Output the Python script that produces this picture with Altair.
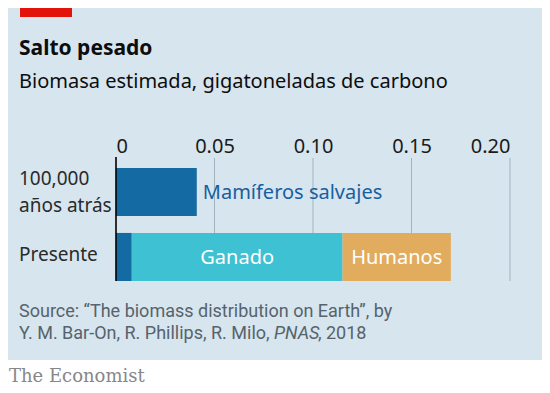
import altair as alt
import pandas as pd

# ---- data ----
periods = ["100,000\naños atrás", "Presente"]
categories = ["Mamíferos salvajes", "Ganado", "Humanos"]
wild_mammals = [0.041, 0.008]
livestock = [0.0, 0.107]
humans = [0.0, 0.055]
tick_values = [0, 0.05, 0.10, 0.15, 0.20]
grid_values = [0.05, 0.10, 0.15, 0.20]
cat_colors = ["#146aa2", "#3ec1d3", "#e1ac5e"]

title_text = "Salto pesado"
subtitle_text = "Biomasa estimada, gigatoneladas de carbono"
source_line1 = "Source: \u201cThe biomass distribution on Earth\u201d, by"
source_line2a = "Y. M. Bar-On, R. Phillips, R. Milo,"
source_line2b = "PNAS"
source_line2c = ", 2018"
logo_text = "The Economist"

# ---- tables ----
rows = []
for pi, p in enumerate(periods):
    vals = [wild_mammals[pi], livestock[pi], humans[pi]]
    for ci, c in enumerate(categories):
        if vals[ci] > 0:
            rows.append({"period": p, "category": c, "value": vals[ci], "order": ci})
bars_df = pd.DataFrame(rows)

lbl_wild = pd.DataFrame({"period": [periods[0]], "x": [wild_mammals[0]], "t": [categories[0]]})
p1_start = wild_mammals[1]
lbl_inside = pd.DataFrame({
    "period": [periods[1], periods[1]],
    "x": [p1_start + livestock[1] / 2, p1_start + livestock[1] + humans[1] / 2],
    "t": [categories[1], categories[2]],
})

FONT = "Noto Sans"
W, H = 394, 113
# window coordinates of the plot origin; the page has an 8px margin
RX, RY = 116, 168
MARGIN = 8
TOTAL_W, TOTAL_H = 550 - 2 * MARGIN, 393 - 2 * MARGIN
PL, PT = RX - MARGIN, RY - MARGIN

yscale = alt.Scale(domain=periods, paddingInner=0.26, paddingOuter=0)
xscale = alt.Scale(domain=[0, 0.2], nice=False, zero=True)

grid = alt.Chart(pd.DataFrame({"v": grid_values})).mark_rule(
    color="#a3b3bd", strokeWidth=1
).encode(
    x=alt.X("v:Q", scale=xscale),
    y=alt.value(-10), y2=alt.value(H),
)

bars = alt.Chart(bars_df).mark_bar().encode(
    x=alt.X("value:Q", stack="zero", scale=xscale,
            axis=alt.Axis(orient="top", values=tick_values,
                          labelExpr="datum.value == 0 ? '0' : format(datum.value, '.2f')",
                          domain=False, ticks=False, tickSize=0, grid=False,
                          labelFont=FONT, labelFontSize=20, labelColor="#1a1a1a",
                          labelBaseline="alphabetic", labelPadding=16, title=None)),
    y=alt.Y("period:N", scale=yscale, axis=None, sort=periods),
    color=alt.Color("category:N", scale=alt.Scale(domain=categories, range=cat_colors), legend=None),
    order=alt.Order("order:Q"),
)

zero_line = alt.Chart(pd.DataFrame({"v": [0]})).mark_rule(
    color="#000000", strokeWidth=1.6
).encode(x=alt.X("v:Q", scale=xscale), y=alt.value(-11), y2=alt.value(H))

txt_wild = alt.Chart(lbl_wild).mark_text(
    align="left", baseline="middle", dx=6, dy=1, font=FONT, fontSize=20, color="#17609f"
).encode(x=alt.X("x:Q", scale=xscale), y=alt.Y("period:N", scale=yscale, sort=periods), text="t:N")

txt_inside = alt.Chart(lbl_inside).mark_text(
    align="center", baseline="middle", dy=1, font=FONT, fontSize=20, color="#ffffff"
).encode(x=alt.X("x:Q", scale=xscale), y=alt.Y("period:N", scale=yscale, sort=periods), text="t:N")

ylab_df = pd.DataFrame({"period": periods})
ylabel_two = alt.Chart(ylab_df).transform_filter(
    alt.datum.period == periods[0]
).mark_text(
    align="left", baseline="middle", font=FONT, fontSize=19, color="#2a2a2a",
    lineBreak="\n", lineHeight=26.5, dy=-13
).encode(x=alt.value(19 - RX), y=alt.Y("period:N", scale=yscale, sort=periods), text="period:N")
ylabel_one = alt.Chart(ylab_df).transform_filter(
    alt.datum.period == periods[1]
).mark_text(
    align="left", baseline="middle", font=FONT, fontSize=19, color="#2a2a2a", dy=-2
).encode(x=alt.value(19 - RX), y=alt.Y("period:N", scale=yscale, sort=periods), text="period:N")

def fixed_text(t, x, y, align="left", **kw):
    return alt.Chart(pd.DataFrame({"t": [t]})).mark_text(
        align=align, baseline="alphabetic", **kw
    ).encode(x=alt.value(x - RX), y=alt.value(y - RY), text="t:N")

title = fixed_text(title_text, 19, 55, font=FONT, fontSize=21, fontWeight="bold", color="#0d0d0d")
subtitle = fixed_text(subtitle_text, 19, 88, font=FONT, fontSize=20, color="#0d0d0d")
SRC_FONT = "Roboto"
src_col = "#56636c"
src1 = fixed_text(source_line1, 19, 317, font=SRC_FONT, fontSize=18, color=src_col)
src2a = fixed_text(source_line2a, 19, 338.5, font=SRC_FONT, fontSize=18, color=src_col)
src2b = fixed_text(source_line2b, 274, 338.5, font=SRC_FONT, fontSize=18, fontStyle="italic", color=src_col)
src2c = fixed_text(source_line2c, 318, 338.5, font=SRC_FONT, fontSize=18, color=src_col)

white_strip = alt.Chart(pd.DataFrame({"a": [0]})).mark_rect(color="#ffffff").encode(
    x=alt.value(0 - RX), x2=alt.value(550 - RX), y=alt.value(360 - RY), y2=alt.value(393 - RY)
)
logo = fixed_text(logo_text, 9, 382, font="DejaVu Serif", fontSize=18, color="#878787")

red_tab = alt.Chart(pd.DataFrame({"a": [0]})).mark_rect(color="#e3120b").encode(
    x=alt.value(20 - RX), x2=alt.value(72 - RX), y=alt.value(0 - RY), y2=alt.value(17 - RY)
)

chart = alt.layer(
    white_strip, red_tab, grid, bars, zero_line, txt_wild, txt_inside, ylabel_two, ylabel_one,
    title, subtitle, src1, src2a, src2b, src2c, logo
).properties(
    width=W, height=H,
    padding={"left": PL, "top": PT, "right": TOTAL_W - PL - W, "bottom": TOTAL_H - PT - H},
    autosize=alt.AutoSizeParams(type="none"),
    background="#d6e5ee",
).configure_view(stroke=None)

chart.save("out.html", embed_options={"renderer": "svg", "actions": False})
